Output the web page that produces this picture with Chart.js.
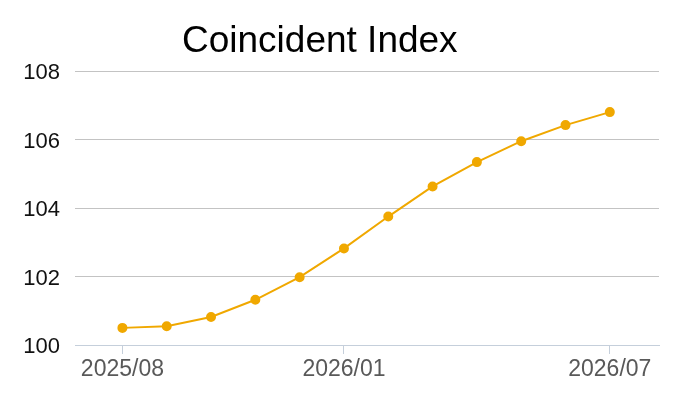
<!DOCTYPE html>
<html>
<head>
<meta charset="utf-8">
<script src="https://cdn.jsdelivr.net/npm/chart.js@4"></script>
<style>
  html, body { margin: 0; padding: 0; background: #fff; }
  #wrap { width: 700px; height: 400px; }
</style>
</head>
<body>
<div id="wrap"><canvas id="ci-chart"></canvas></div>
<script>
// monthly points, oldest first
const months = ['2025/08', '2025/09', '2025/10', '2025/11', '2025/12', '2026/01',
                '2026/02', '2026/03', '2026/04', '2026/05', '2026/06', '2026/07'];
const indexValues = [100.50, 100.55, 100.82, 101.32, 101.98, 102.82,
                     103.75, 104.63, 105.34, 105.95, 106.42, 106.80];
// which months get a label on the x axis
const labelledMonths = ['2025/08', '2026/01', '2026/07'];
const titleText = 'Coincident Index';

const canvas = document.getElementById('ci-chart');
const ctx = canvas.getContext('2d');

// title is drawn by hand so it can sit left of centre like the original
const titlePlugin = {
  id: 'manualTitle',
  afterDraw(chart) {
    const c = chart.ctx;
    c.save();
    c.font = '37px "Liberation Sans", Arial, sans-serif';
    c.fillStyle = '#000';
    c.textAlign = 'left';
    c.textBaseline = 'alphabetic';
    c.fillText(titleText, 182, 52);
    c.restore();
  }
};

const points = indexValues.map((v, i) => ({ x: i, y: v }));

new Chart(ctx, {
  type: 'line',
  data: {
    datasets: [{
      label: titleText,
      data: points,
      borderColor: '#f0a800',
      backgroundColor: '#f0a800',
      borderWidth: 2,
      pointRadius: 4,
      pointHoverRadius: 4,
      tension: 0
    }]
  },
  options: {
    responsive: true,
    maintainAspectRatio: false,
    animation: false,
    layout: { padding: { top: 71, right: 41, left: 0, bottom: 0 } },
    plugins: {
      legend: { display: false },
      title: { display: false },
      tooltip: { enabled: false }
    },
    scales: {
      x: {
        type: 'linear',
        min: -1.07,
        max: 12.11,
        afterBuildTicks: scale => {
          scale.ticks = labelledMonths.map(m => ({ value: months.indexOf(m) }));
        },
        afterFit: scale => { scale.height = 55; },
        grid: {
          drawOnChartArea: false,
          drawTicks: true,
          tickLength: 9,
          color: '#c5cfdb'
        },
        border: { color: '#c5cfdb', width: 1 },
        ticks: {
          autoSkip: false,
          maxRotation: 0,
          padding: 2,
          color: '#595959',
          font: { family: '"Liberation Sans", Arial, sans-serif', size: 23 },
          callback: value => months[value]
        }
      },
      y: {
        min: 100,
        max: 108,
        afterFit: scale => { scale.width = 75; },
        grid: {
          drawTicks: false,
          color: ctx => ctx.tick && ctx.tick.value === 100 ? '#c5cfdb' : '#c3c3c3'
        },
        border: { display: false },
        ticks: {
          stepSize: 2,
          padding: 15,
          labelOffset: 2,
          color: '#111',
          font: { family: '"Liberation Sans", Arial, sans-serif', size: 22 }
        }
      }
    }
  },
  plugins: [titlePlugin]
});
</script>
</body>
</html>
